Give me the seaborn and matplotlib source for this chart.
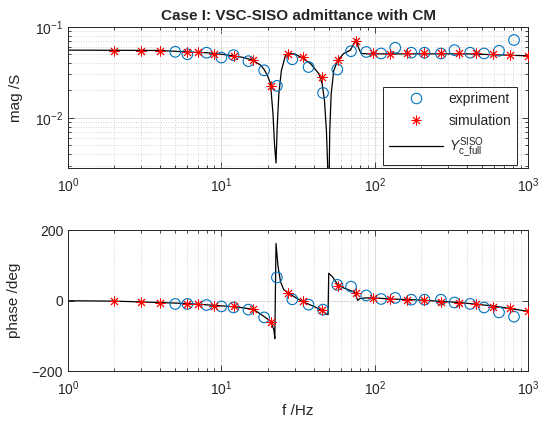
import matplotlib
matplotlib.use("Agg")
import matplotlib.pyplot as plt
import seaborn as sns
import numpy as np
from matplotlib.lines import Line2D
from matplotlib.ticker import LogLocator, NullLocator, FixedLocator, NullFormatter

# Messpunkte (Experiment)
f_exp = [5, 6, 8, 10, 12, 15, 19, 23, 29, 37, 46, 57, 70, 88, 110, 136, 173, 211,
         270, 331, 419, 516, 646, 809]
mag_exp = [0.0532, 0.050, 0.052, 0.046, 0.0489, 0.042, 0.0333, 0.0225, 0.0440, 0.0362,
           0.0188, 0.0340, 0.0540, 0.053, 0.051, 0.0589, 0.052, 0.052, 0.051, 0.0555,
           0.052, 0.051, 0.0546, 0.0717]
ph_exp = [-9, -9, -12, -16, -19, -25, -47, 66, 4, -11, -25, 45, 40, 15, 5, 8, 3, 3, 3,
          -5, -9, -19, -33, -45]

# Simulationspunkte
f_sim = [2, 3, 4, 6, 7, 9, 12, 16, 21, 27, 34, 45, 58, 76, 98, 126, 162, 210, 272, 355,
         457, 589, 760, 1000]
mag_sim = [0.0546, 0.0546, 0.0546, 0.0523, 0.0523, 0.0506, 0.048, 0.043, 0.0226, 0.050,
           0.047, 0.0282, 0.0437, 0.0705, 0.051, 0.050, 0.051, 0.051, 0.051, 0.051, 0.051,
           0.050, 0.049, 0.048]
ph_sim = [-1, -3, -7, -9, -9, -14, -16, -23, -61, 23, -2, -26, 43, 23, 8, 5, 2, 2, -3, -7,
          -10, -17, -21, -30]

# Modellkurve Y_c_full
f_mag_line = [1, 2, 4, 6, 8, 10, 12, 14, 16, 18, 19, 20, 20.9, 21.7, 22.2, 22.7, 23.1,
              23.7, 24.6, 26.2, 27.6, 30, 32.8, 38.1, 43.2, 45.4, 47, 48.4, 49.3, 49.7,
              50.1, 50.9, 52, 54, 57.4, 62.8, 69.4, 74.8, 75.9, 78, 81.4, 90, 120, 200,
              400, 700, 1000]
mag_line = [0.0555, 0.0553, 0.055, 0.053, 0.052, 0.050, 0.048, 0.046, 0.043, 0.038,
            0.034, 0.029, 0.0238, 0.011, 0.0051, 0.0032, 0.0078, 0.0185, 0.033, 0.049,
            0.051, 0.0505, 0.0468, 0.0395, 0.0306, 0.0237, 0.0155, 0.0072, 0.0030, 0.0012,
            0.0012, 0.0072, 0.0185, 0.033, 0.043, 0.051, 0.0555, 0.0705, 0.0736, 0.060,
            0.051, 0.0505, 0.0505, 0.0505, 0.0505, 0.049, 0.048]

f_ph_line = [1, 2, 4, 6, 9, 12, 13.4, 16.3, 18.9, 20.9, 22, 22.3, 22.7, 23.4, 24.3, 25.5,
             27.1, 29.7, 33.6, 40.1, 45.4, 48.4, 49.6, 50.1, 52.7, 56.9, 62.8, 69.4, 74,
             77.4, 79.8, 86.8, 98.4, 126, 200, 355, 600, 1000]
ph_line = [0, -1, -5, -8, -13, -17, -19, -25, -44, -58, -82, -107, 162, 97, 54, 31, 23,
           12, -2, -16, -28, -38, -39, 78, 69, 48, 36, 29, 23, 1, 6, 8, 8, 5, 2, -5, -15,
           -30]

title = "Case I: VSC-SISO admittance with CM"
legend_labels = ["expriment", "simulation", r"$Y_{\mathrm{c\_full}}^{\mathrm{SISO}}$"]

C_EXP = "#0072BD"
C_SIM = "#FF0000"
C_AX = "#262626"
STAR = (8, 2, 0)

sns.set_style("ticks")
plt.rcParams["font.family"] = ["Liberation Sans", "DejaVu Sans"]
plt.rcParams["mathtext.fontset"] = "custom"
plt.rcParams["mathtext.rm"] = "Liberation Sans"
plt.rcParams["mathtext.it"] = "Liberation Sans:italic"
plt.rcParams["axes.edgecolor"] = C_AX
plt.rcParams["axes.linewidth"] = 0.7
plt.rcParams["xtick.color"] = C_AX
plt.rcParams["ytick.color"] = C_AX

fig = plt.figure(figsize=(5.4, 4.26), dpi=100)
ax1 = fig.add_axes([0.126, 0.605, 0.852, 0.332])
ax2 = fig.add_axes([0.126, 0.128, 0.852, 0.332])


def style_axes(ax):
    ax.set_xscale("log")
    ax.set_xlim(1, 1000)
    ax.xaxis.set_major_locator(LogLocator(base=10, numticks=10))
    ax.xaxis.set_minor_locator(LogLocator(base=10, subs=np.arange(2, 10), numticks=20))
    ax.xaxis.set_minor_formatter(NullFormatter())
    ax.grid(True, which="major", color="#dcdcdc", lw=0.7, ls="-")
    ax.grid(True, which="minor", color="#c8c8c8", lw=0.6, ls=(0, (1, 2)))
    ax.set_axisbelow(True)
    ax.tick_params(which="both", direction="in", top=True, right=True,
                   labelsize=10, width=0.6)
    ax.tick_params(which="major", length=4)
    ax.tick_params(which="minor", length=2.5)
    ax.tick_params(axis="x", which="major", pad=6)
    for s in ax.spines.values():
        s.set_visible(True)


# Betrag
sns.lineplot(x=f_mag_line, y=mag_line, ax=ax1, color="k", lw=0.9, sort=False,
             estimator=None)
sns.scatterplot(x=f_exp, y=mag_exp, ax=ax1, marker="o", s=58, facecolor="none",
                edgecolor=C_EXP, linewidth=0.8, zorder=3)
sns.scatterplot(x=f_sim, y=mag_sim, ax=ax1, marker=STAR, s=45, color=C_SIM,
                linewidth=0.65, zorder=4)
style_axes(ax1)
ax1.set_yscale("log")
ax1.set_ylim(0.0028, 0.1)
ax1.yaxis.set_minor_locator(LogLocator(base=10, subs=np.arange(2, 10), numticks=20))
ax1.yaxis.set_minor_formatter(NullFormatter())
ax1.set_ylabel("mag /S", fontsize=11, color=C_AX)
ax1.yaxis.set_label_coords(-0.098, 0.5)
ax1.set_xlabel("")
ax1.set_title(title, fontsize=11, fontweight="bold", pad=5)

handles = [
    Line2D([], [], ls="none", marker="o", mfc="none", mec=C_EXP, ms=7.5, mew=0.8),
    Line2D([], [], ls="none", marker=STAR, color=C_SIM, ms=7, mew=0.65),
    Line2D([], [], color="k", lw=0.9),
]
leg = ax1.legend(handles, legend_labels, loc="lower right",
                 bbox_to_anchor=(0.976, 0.02), borderaxespad=0, fontsize=10,
                 handlelength=3.9, handletextpad=0.4, labelspacing=0.55,
                 borderpad=0.4, fancybox=False, framealpha=1, edgecolor=C_AX)
leg.get_frame().set_linewidth(0.7)

# Phase
sns.lineplot(x=f_ph_line, y=ph_line, ax=ax2, color="k", lw=0.9, sort=False,
             estimator=None)
sns.scatterplot(x=f_exp, y=ph_exp, ax=ax2, marker="o", s=58, facecolor="none",
                edgecolor=C_EXP, linewidth=0.8, zorder=3)
sns.scatterplot(x=f_sim, y=ph_sim, ax=ax2, marker=STAR, s=45, color=C_SIM,
                linewidth=0.65, zorder=4)
style_axes(ax2)
ax2.set_ylim(-200, 200)
ax2.yaxis.set_major_locator(FixedLocator([-200, 0, 200]))
ax2.yaxis.set_minor_locator(NullLocator())
ax2.set_ylabel("phase /deg", fontsize=11, color=C_AX)
ax2.yaxis.set_label_coords(-0.102, 0.5)
ax2.set_xlabel("f /Hz", fontsize=11, color=C_AX)

fig.savefig("out.png", dpi=100)
